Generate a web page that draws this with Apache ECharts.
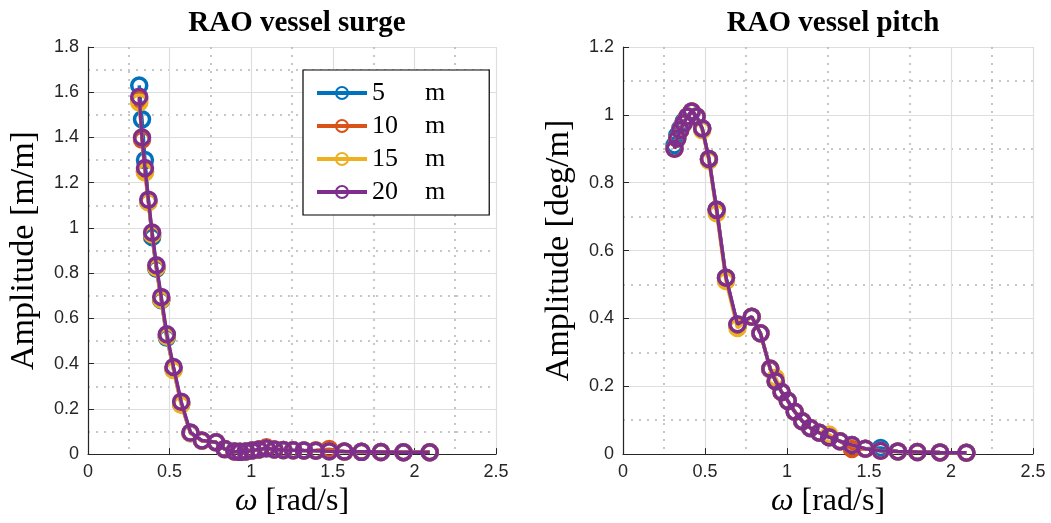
<!DOCTYPE html>
<html><head><meta charset="utf-8">
<script src="https://cdn.jsdelivr.net/npm/echarts@6/dist/echarts.min.js"></script>
<style>html,body{margin:0;padding:0;background:#fff}#c{width:1051px;height:523px}</style>
</head><body><div id="c"></div>
<script>
// wave frequencies [rad/s]
const omega = [0.314,0.331,0.349,0.370,0.393,0.419,0.449,0.483,0.524,0.571,0.628,0.698,0.785,0.838,0.898,0.931,0.967,1.005,1.047,1.093,1.142,1.197,1.257,1.323,1.396,1.478,1.571,1.676,1.795,1.933,2.094];
const seriesNames = ['5 m','10 m','15 m','20 m'];
const seriesColors = ['#0072BD','#D95319','#EDB120','#7E2F8E'];
// surge RAO [m/m]
const surge5  = [1.63,1.48,1.30,1.12,0.96,0.82,0.68,0.515,0.375,0.222,0.093,0.059,0.052,0.022,0.012,0.010,0.012,0.016,0.020,0.026,0.020,0.018,0.017,0.016,0.015,0.013,0.011,0.010,0.009,0.008,0.008];
const surge10 = [1.57,1.39,1.25,1.115,0.97,0.825,0.685,0.525,0.38,0.225,0.093,0.059,0.052,0.022,0.012,0.010,0.012,0.016,0.020,0.030,0.020,0.018,0.017,0.016,0.017,0.022,0.011,0.010,0.009,0.008,0.008];
const surge15 = [1.555,1.40,1.245,1.115,0.972,0.825,0.683,0.52,0.372,0.218,0.093,0.059,0.052,0.022,0.012,0.010,0.012,0.016,0.020,0.026,0.020,0.018,0.017,0.016,0.015,0.013,0.011,0.010,0.009,0.008,0.008];
const surge20 = [1.58,1.40,1.265,1.125,0.98,0.835,0.695,0.53,0.385,0.232,0.095,0.060,0.052,0.022,0.012,0.010,0.012,0.016,0.020,0.026,0.020,0.018,0.017,0.016,0.015,0.013,0.011,0.010,0.009,0.008,0.008];
// pitch RAO [deg/m]
const pitch5  = [0.91,0.94,0.96,0.98,0.995,1.01,0.995,0.96,0.87,0.72,0.52,0.38,0.405,0.356,0.25,0.215,0.183,0.157,0.125,0.097,0.077,0.063,0.050,0.038,0.027,0.016,0.018,0.008,0.006,0.005,0.004];
const pitch10 = [0.90,0.93,0.955,0.975,0.995,1.01,0.995,0.96,0.87,0.72,0.52,0.38,0.405,0.356,0.25,0.215,0.183,0.157,0.125,0.097,0.077,0.063,0.050,0.038,0.015,0.016,0.010,0.008,0.006,0.005,0.004];
const pitch15 = [0.90,0.93,0.955,0.975,0.995,1.01,0.995,0.955,0.865,0.71,0.51,0.372,0.405,0.356,0.252,0.225,0.183,0.157,0.125,0.097,0.077,0.063,0.058,0.038,0.027,0.016,0.010,0.008,0.006,0.005,0.004];
const pitch20 = [0.90,0.93,0.955,0.975,0.995,1.01,0.995,0.96,0.87,0.72,0.52,0.383,0.405,0.356,0.252,0.215,0.183,0.157,0.125,0.097,0.077,0.063,0.050,0.038,0.027,0.016,0.010,0.008,0.006,0.005,0.004];
const xTicks = [0,0.5,1,1.5,2,2.5];
const surgeTicks = [0,0.2,0.4,0.6,0.8,1,1.2,1.4,1.6,1.8];
const pitchTicks = [0,0.2,0.4,0.6,0.8,1,1.2];

const surgeData = [surge5,surge10,surge15,surge20];
const pitchData = [pitch5,pitch10,pitch15,pitch20];

const serif = 'Liberation Serif';
const sans = 'Liberation Sans';
const axisDark = '#262626';

function xAxisCfg(gi){
  return {
    type:'value', gridIndex:gi, min:xTicks[0], max:xTicks[xTicks.length-1], interval:0.5,
    name:'{i|ω} [rad/s]', nameLocation:'middle', nameGap:30,
    nameTextStyle:{fontFamily:serif,fontSize:32,color:'#000',
      rich:{i:{fontFamily:serif,fontStyle:'italic',fontSize:32,color:'#000'}}},
    axisLine:{show:true,onZero:false,lineStyle:{color:axisDark,width:1.2}},
    axisTick:{show:true,inside:true,length:6,lineStyle:{color:axisDark}},
    axisLabel:{fontFamily:sans,fontSize:18,color:axisDark,margin:9,formatter:v=>String(v)},
    splitLine:{show:true,lineStyle:{color:'#dedede',width:1.2}},
    minorTick:{show:false,splitNumber:2},
    minorSplitLine:{show:true,lineStyle:{color:'#b5b5b5',width:1.5,type:[2,6]}}
  };
}
function yAxisCfg(gi,ticks,name){
  return {
    type:'value', gridIndex:gi, min:ticks[0], max:ticks[ticks.length-1], interval:0.2,
    name:name, nameLocation:'middle', nameGap:47, nameRotate:90,
    nameTextStyle:{fontFamily:serif,fontSize:34,color:'#000'},
    axisLine:{show:true,onZero:false,lineStyle:{color:axisDark,width:1.2}},
    axisTick:{show:true,inside:true,length:6,lineStyle:{color:axisDark}},
    axisLabel:{fontFamily:sans,fontSize:18,color:axisDark,margin:9,formatter:v=>String(+v.toFixed(1))},
    splitLine:{show:true,lineStyle:{color:'#dedede',width:1.2}},
    minorTick:{show:false,splitNumber:2},
    minorSplitLine:{show:true,lineStyle:{color:'#b5b5b5',width:1.5,type:[2,6]}}
  };
}
function mkSeries(arrs,gi){
  return arrs.map((arr,k)=>({
    type:'line', name:seriesNames[k], xAxisIndex:gi, yAxisIndex:gi,
    data:omega.map((w,i)=>[w,arr[i]]),
    symbol:'circle', symbolSize:15, showSymbol:true,
    lineStyle:{color:seriesColors[k],width:3.5},
    itemStyle:{color:'rgba(255,255,255,0)',borderColor:seriesColors[k],borderWidth:3.5},
    emphasis:{disabled:true}, animation:false, z:2+k
  }));
}

const chart = echarts.init(document.getElementById('c'),null,{renderer:'canvas'});
chart.setOption({
  animation:false,
  backgroundColor:'#fff',
  title:[
    {text:'RAO vessel surge',left:292,top:4,textAlign:'center',
     textStyle:{fontFamily:serif,fontWeight:'bold',fontSize:29,color:'#000'}},
    {text:'RAO vessel pitch',left:828,top:4,textAlign:'center',
     textStyle:{fontFamily:serif,fontWeight:'bold',fontSize:29,color:'#000'}}
  ],
  grid:[
    {left:88,top:47,width:408,height:408},
    {left:623,top:47,width:410,height:409}
  ],
  xAxis:[xAxisCfg(0),xAxisCfg(1)],
  yAxis:[yAxisCfg(0,surgeTicks,'Amplitude [m/m]'),yAxisCfg(1,pitchTicks,'Amplitude [deg/m]')],
  legend:{
    data:seriesNames, orient:'vertical', left:303, top:70,
    backgroundColor:'#fff', borderColor:'#000', borderWidth:1.2,
    padding:[10,44,10,12], itemWidth:50, itemHeight:15, itemGap:7,
    selectedMode:false,
    lineStyle:{width:4},
    formatter:function(name){const p=name.split(' ');return '{n|'+p[0]+'}{u|'+p[1]+'}';},
    textStyle:{fontFamily:serif,fontSize:26,color:'#000',lineHeight:26,
      rich:{n:{fontFamily:serif,fontSize:26,width:53,color:'#000'},u:{fontFamily:serif,fontSize:26,color:'#000'}}}
  },
  series:[...mkSeries(surgeData,0),...mkSeries(pitchData,1)]
});
</script></body></html>
